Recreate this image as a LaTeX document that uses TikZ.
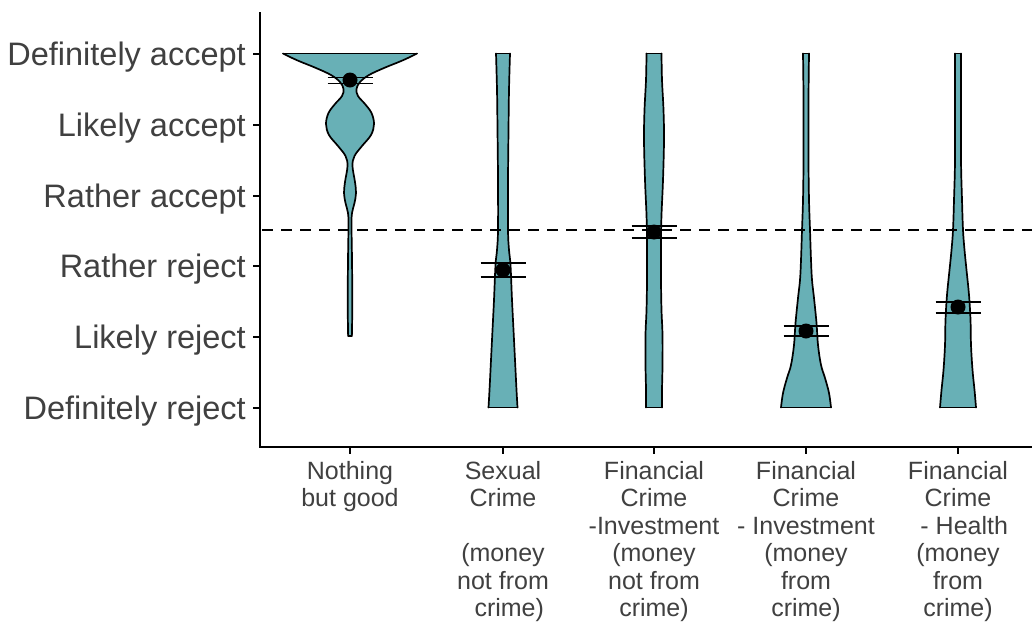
\documentclass[tikz,border=0pt]{standalone}
\usepackage{fontspec}
\setmainfont{Liberation Sans}
\definecolor{viofill}{RGB}{104,176,182}
\definecolor{txtgray}{RGB}{64,64,64}
\tikzset{
  vline/.style={line width=1.7pt, line cap=round, line join=round, black},
  axisline/.style={line width=1.4pt, black},
  ylab/.style={anchor=base east, inner sep=0pt, text=txtgray, font=\fontsize{32.5}{38}\selectfont},
  xlab/.style={anchor=north, inner sep=0pt, align=center, text=txtgray, font=\fontsize{25}{27.5}\selectfont},
  ebar/.style={line width=1.5pt, black},
}
\newcommand\myviolin[6]{%
  \begin{scope}[shift={(#1,0)}]
    \foreach \s in {1,-1}{%
      \begin{scope}[xscale=\s]
        \fill[viofill] (-0.8,#2) -- plot[smooth,tension=0.6] coordinates {#6} -- (-0.8,#4) -- cycle;
      \end{scope}}
    \foreach \s in {1,-1}{%
      \begin{scope}[xscale=\s]
        \draw[vline] plot[smooth,tension=0.6] coordinates {#6};
      \end{scope}}
    \draw[vline] (-#3,#2) -- (#3,#2);
    \draw[vline] (-#5,#4) -- (#5,#4);
  \end{scope}}
\begin{document}
\begin{tikzpicture}[x=1pt,y=-1pt]
\useasboundingbox (0,0) rectangle (1032,625);
% axes
\draw[axisline] (260,12) -- (260,447) -- (1032,447);
\foreach \yy in {54,125,196,266,337,408}{\draw[axisline] (253,\yy) -- (260,\yy);}
\foreach \xx in {350,503,654,806,958}{\draw[axisline] (\xx,447) -- (\xx,454);}
% y labels
\node[ylab] (yl6) at (246,65.5) {Definitely accept};
\node[ylab] (yl5) at (246,136.5) {Likely accept};
\node[ylab] (yl4) at (246,207.5) {Rather accept};
\node[ylab] (yl3) at (246,277.5) {Rather reject};
\node[ylab] (yl2) at (246,348.5) {Likely reject};
\node[ylab] (yl1) at (246,419.5) {Definitely reject};
% x labels
\node[xlab] (xl1) at (350,461) {Nothing\\but good};
\node[xlab] (xl2) at (503,461) {Sexual\\Crime\\\mbox{}\\(money\\not from\\\hspace*{0.5em}crime)};
\node[xlab] (xl3) at (654,461) {Financial\\Crime\\-Investment\\(money\\not from\\crime)};
\node[xlab] (xl4) at (806,461) {Financial\\Crime\\- Investment\\(money\\from\\crime)};
\node[xlab] (xl5) at (958,461) {Financial\\Crime\\\hspace*{0.5em}- Health\\(money\\from\\crime)};
% violins
\myviolin{350}{53.5}{67}{336}{1.8}{(67,53.5) (60,57) (50,61.5) (34,68) (19,75) (10,82) (6.5,89) (8,96) (15,104) (21.5,113) (24,124) (21,135) (12,146) (4.5,156) (2.5,166) (5,182) (6,193) (4.5,203) (2,213) (1.5,225) (2,260) (2.3,300) (2,330) (1.8,336)}
\myviolin{503}{53.5}{7}{407.5}{14.5}{(7,53.5) (6,90) (5.5,130) (5,180) (5,230) (6,250) (7.5,265) (9,300) (10.5,330) (12,360) (13.5,390) (14.5,407.5)}
\myviolin{654}{53.5}{7.5}{407.5}{8}{(7.5,53.5) (8,80) (9.5,110) (10,140) (9,180) (7.5,215) (7,240) (7,280) (7.5,310) (8.5,335) (8.5,365) (8,390) (8,407.5)}
\myviolin{806}{53.5}{3}{407.5}{25}{(3,53.5) (2.5,100) (2.5,160) (3,200) (4,230) (5,260) (6,280) (8,298) (10.5,323) (12,345) (15,365) (19,378) (23,393) (25,407.5)}
\myviolin{958}{53.5}{3}{407.5}{18}{(3,53.5) (3,100) (3,160) (4,200) (5,230) (6.5,250) (8.5,270) (11,295) (12.5,320) (13,345) (14.5,370) (16.5,390) (18,407.5)}
% reference line
\draw[line width=1.8pt, dash pattern=on 11pt off 8pt] (262,230) -- (1032,230);
% means and error bars
\foreach \xx/\yy/\ya/\yb in {350/80/77.7/83.3, 503/270/263/277, 654/232/226/238, 806/331/326/336, 958/307/302/313}{
  \draw[ebar] (\xx-22.5,\ya) -- (\xx+22.5,\ya);
  \draw[ebar] (\xx-22.5,\yb) -- (\xx+22.5,\yb);
  \fill (\xx,\yy) circle (7.5);
}
\end{tikzpicture}
\end{document}
